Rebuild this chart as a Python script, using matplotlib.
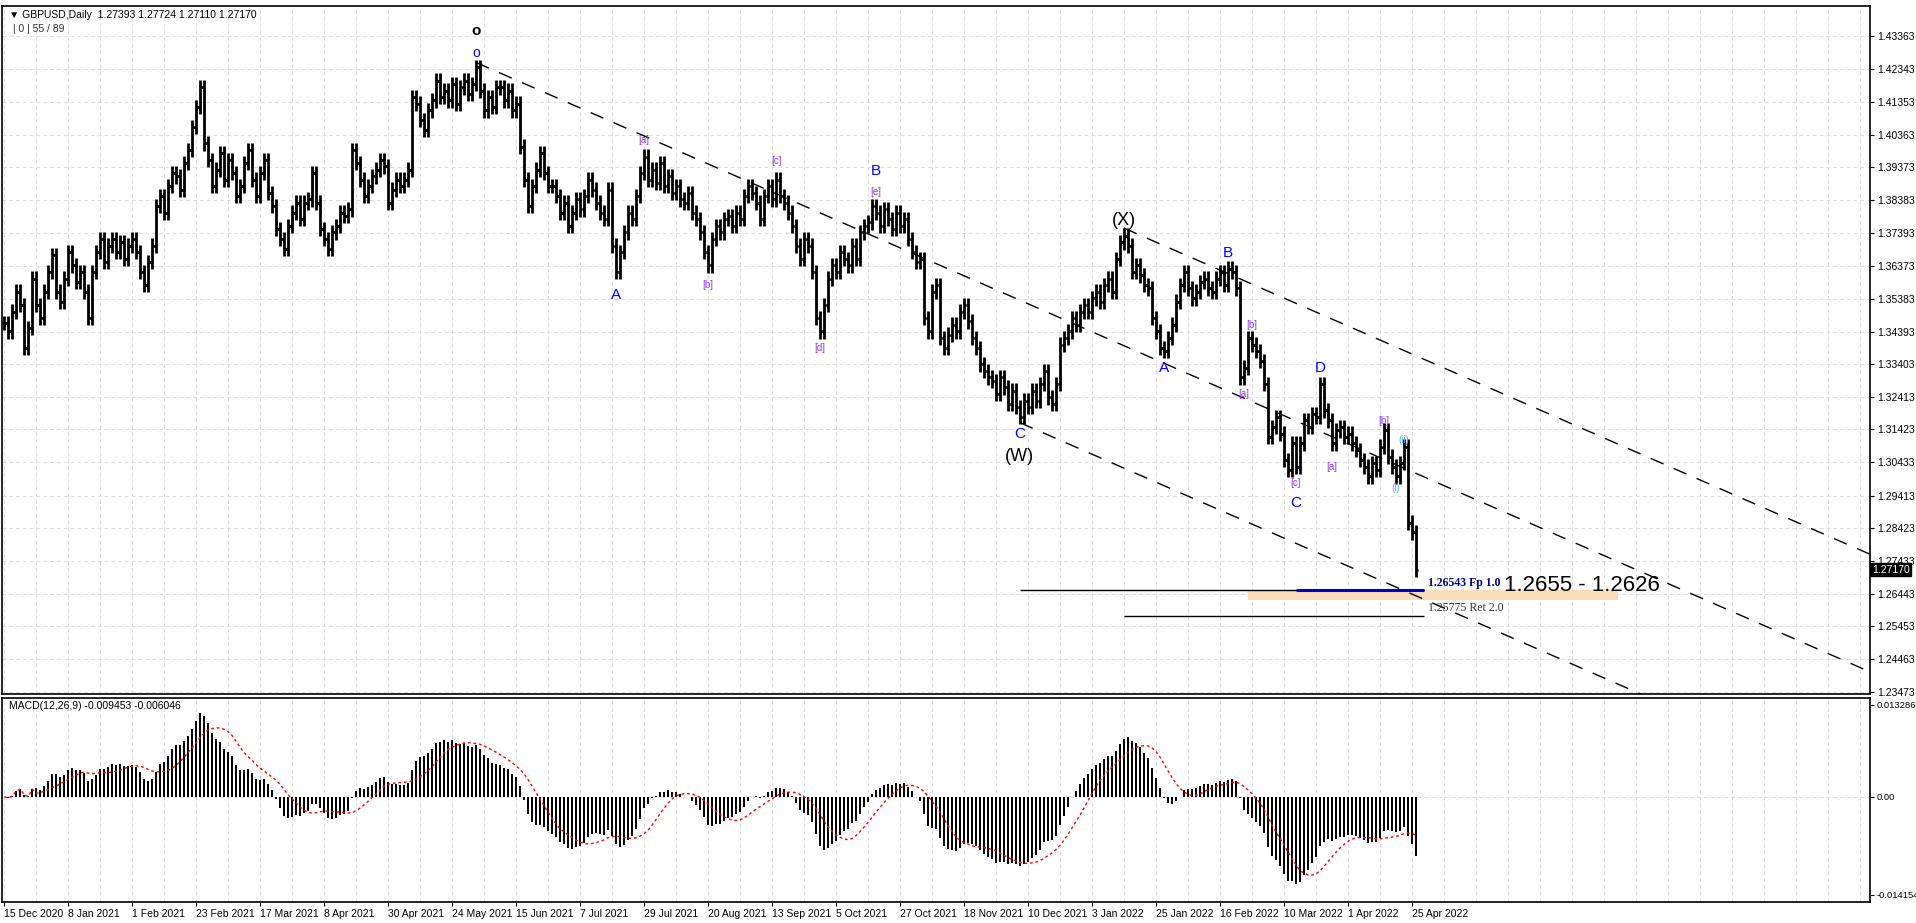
import numpy as np
import matplotlib
matplotlib.use("Agg")
import matplotlib.pyplot as plt
from matplotlib.patches import Rectangle

plt.rcParams['font.family'] = ['Liberation Sans', 'DejaVu Sans']

closes = [
1.3465,1.3440,1.3500,1.3560,1.3520,1.3390,1.3450,1.3600,1.3520,1.3480,
1.3560,1.3620,1.3670,1.3560,1.3530,1.3600,1.3680,1.3640,1.3590,1.3620,
1.3560,1.3480,1.3620,1.3680,1.3720,1.3650,1.3700,1.3720,1.3680,1.3710,
1.3660,1.3700,1.3720,1.3680,1.3620,1.3580,1.3650,1.3700,1.3820,1.3850,
1.3800,1.3880,1.3920,1.3910,1.3870,1.3950,1.3990,1.4060,1.4120,1.4180,
1.4010,1.3960,1.3880,1.3930,1.3980,1.3900,1.3960,1.3920,1.3850,1.3880,
1.3950,1.3990,1.3900,1.3850,1.3920,1.3960,1.3860,1.3820,1.3750,1.3720,
1.3690,1.3760,1.3800,1.3830,1.3780,1.3830,1.3840,1.3920,1.3830,1.3750,
1.3720,1.3690,1.3740,1.3760,1.3800,1.3790,1.3810,1.3990,1.3950,1.3900,
1.3850,1.3880,1.3910,1.3930,1.3960,1.3940,1.3830,1.3870,1.3900,1.3880,
1.3900,1.3930,1.4150,1.4130,1.4080,1.4050,1.4110,1.4140,1.4200,1.4150,
1.4170,1.4140,1.4190,1.4130,1.4180,1.4200,1.4160,1.4190,1.4240,1.4170,
1.4110,1.4150,1.4120,1.4180,1.4180,1.4140,1.4170,1.4110,1.4130,1.4000,
1.3900,1.3820,1.3880,1.3930,1.3980,1.3920,1.3880,1.3880,1.3850,1.3800,
1.3830,1.3760,1.3800,1.3840,1.3810,1.3850,1.3900,1.3870,1.3830,1.3800,
1.3780,1.3870,1.3700,1.3620,1.3680,1.3740,1.3800,1.3780,1.3850,1.3920,
1.3970,1.3900,1.3930,1.3890,1.3950,1.3880,1.3910,1.3860,1.3880,1.3840,
1.3830,1.3860,1.3800,1.3780,1.3740,1.3680,1.3640,1.3720,1.3760,1.3740,
1.3780,1.3790,1.3760,1.3800,1.3780,1.3850,1.3880,1.3860,1.3830,1.3780,
1.3850,1.3880,1.3840,1.3900,1.3850,1.3830,1.3800,1.3760,1.3700,1.3660,
1.3720,1.3700,1.3620,1.3480,1.3440,1.3520,1.3600,1.3640,1.3620,1.3680,
1.3660,1.3640,1.3700,1.3660,1.3740,1.3760,1.3770,1.3820,1.3800,1.3760,
1.3810,1.3780,1.3750,1.3800,1.3760,1.3780,1.3720,1.3680,1.3650,1.3660,
1.3480,1.3440,1.3560,1.3580,1.3420,1.3390,1.3430,1.3460,1.3440,1.3500,
1.3520,1.3470,1.3420,1.3390,1.3340,1.3320,1.3300,1.3290,1.3250,1.3300,
1.3270,1.3220,1.3260,1.3210,1.3180,1.3230,1.3210,1.3260,1.3230,1.3280,
1.3320,1.3240,1.3220,1.3280,1.3400,1.3420,1.3440,1.3480,1.3460,1.3500,
1.3520,1.3500,1.3540,1.3560,1.3530,1.3580,1.3600,1.3560,1.3660,1.3710,
1.3730,1.3700,1.3620,1.3640,1.3610,1.3580,1.3570,1.3480,1.3440,1.3390,
1.3380,1.3420,1.3460,1.3530,1.3580,1.3620,1.3570,1.3540,1.3560,1.3590,
1.3600,1.3570,1.3560,1.3600,1.3620,1.3580,1.3630,1.3620,1.3570,1.3300,
1.3330,1.3420,1.3400,1.3380,1.3350,1.3280,1.3120,1.3150,1.3180,1.3130,
1.3050,1.3020,1.3100,1.3030,1.3100,1.3170,1.3150,1.3190,1.3180,1.3280,
1.3200,1.3170,1.3100,1.3140,1.3150,1.3120,1.3130,1.3100,1.3080,1.3050,
1.3030,1.3000,1.3040,1.3020,1.3090,1.3140,1.3060,1.3030,1.3000,1.3040,
1.3090,1.2860,1.2830,1.2717]

date_labels = ["15 Dec 2020","8 Jan 2021","1 Feb 2021","23 Feb 2021","17 Mar 2021","8 Apr 2021",
               "30 Apr 2021","24 May 2021","15 Jun 2021","7 Jul 2021","29 Jul 2021","20 Aug 2021",
               "13 Sep 2021","5 Oct 2021","27 Oct 2021","18 Nov 2021","10 Dec 2021","3 Jan 2022",
               "25 Jan 2022","16 Feb 2022","10 Mar 2022","1 Apr 2022","25 Apr 2022"]
price_ticks = [1.43363,1.42343,1.41353,1.40363,1.39373,1.38383,1.37393,1.36373,1.35383,1.34393,
               1.33403,1.32413,1.31423,1.30433,1.29413,1.28423,1.27433,1.26443,1.25453,1.24463,1.23473]
macd_ticks = [0.013286, 0.0, -0.014154]

# wave labels: (bar index, price, text, color, size)
wave_labels = [
    (118, 1.4350, "o", "black", 11), (118, 1.4283, "o", "blue", 10),
    (153, 1.3550, "A", "blue", 11), (160, 1.4020, "[a]", "#9933ff", 7),
    (176, 1.3580, "[b]", "#9933ff", 7), (193, 1.3955, "[c]", "#9933ff", 7),
    (204, 1.3390, "[d]", "#9933ff", 7), (218, 1.3925, "B", "blue", 11),
    (218, 1.3862, "[e]", "#9933ff", 7), (254, 1.3130, "C", "blue", 11),
    (254, 1.3060, "(W)", "black", 13), (280, 1.3777, "(X)", "black", 13),
    (290, 1.3330, "A", "blue", 11), (306, 1.3677, "B", "blue", 11),
    (310, 1.3250, "[a]", "#9933ff", 7), (312, 1.3460, "[b]", "#9933ff", 7),
    (323, 1.2980, "[c]", "#9933ff", 7), (323, 1.2920, "C", "blue", 11),
    (329, 1.3330, "D", "blue", 11), (332, 1.3030, "[a]", "#9933ff", 7),
    (345, 1.3168, "[b]", "#9933ff", 7), (348, 1.2966, "(i)", "#55aaff", 7),
    (350, 1.3110, "(ii)", "#55aaff", 7),
]
# channel lines: start index, start price
channels = [(118, 1.4255), (280, 1.3753), (254, 1.3163)]
chan_slope = -0.00053
fp_level, ret_level = 1.26543, 1.25775
zone = (1.2626, 1.2655)

c = np.array(closes)
n = len(c)
x = np.arange(n)
o = np.r_[c[0], c[:-1]]
hi = np.maximum(o, c) + 0.0022
lo = np.minimum(o, c) - 0.0022

def ema(a, p):
    k = 2 / (p + 1); out = np.empty_like(a); out[0] = a[0]
    for i in range(1, len(a)):
        out[i] = a[i] * k + out[i-1] * (1 - k)
    return out
macd = ema(c, 12) - ema(c, 26)
sig = np.convolve(macd, np.ones(9) / 9, mode="full")[:n]
sig[:8] = macd[:8]

fig = plt.figure(figsize=(19.16, 9.23), dpi=100)
ax = fig.add_axes([0.001, 0.248, 0.975, 0.745])
ax2 = fig.add_axes([0.001, 0.023, 0.975, 0.221])
xl = (-0.6, 466.6)

for a in (ax, ax2):
    a.set_xlim(*xl)
    for s in a.spines.values():
        s.set_linewidth(1.2)
    a.yaxis.tick_right()
    a.tick_params(axis="y", labelsize=7.5, length=3, pad=2)
    for gx in np.arange(0, 470, 8):
        a.axvline(gx, color="#dddddd", lw=0.7, ls=(0, (4, 3)), zorder=0)
ax2.tick_params(axis="y", labelsize=6.8, pad=1.5)

ax.set_ylim(1.2340, 1.4425)
ax.set_yticks(price_ticks)
ax.set_yticklabels([f"{t:.5f}" for t in price_ticks])
for t in price_ticks:
    ax.axhline(t, color="#dddddd", lw=0.7, ls=(0, (4, 3)), zorder=0)
ax.set_xticks([])

ax.vlines(x, lo, hi, color="black", lw=2.0, zorder=3)
ax.hlines(o, x - 0.6, x, color="black", lw=2, zorder=3)
ax.hlines(c, x, x + 0.6, color="black", lw=2, zorder=3)

for (i0, p0) in channels:
    xs = np.array([i0, 470])
    ax.plot(xs, p0 + chan_slope * (xs - i0), color="black", lw=1, ls=(0, (10, 8)), zorder=2)

ax.add_patch(Rectangle((311, zone[0]), 403.6 - 311, zone[1] - zone[0], color="#fbdcb8", zorder=1, lw=0))
ax.hlines(fp_level, 254, 355, color="black", lw=1, zorder=2)
ax.hlines(fp_level, 323, 355, color="#0000cc", lw=2.2, zorder=2)
ax.hlines(ret_level, 280, 355, color="black", lw=1, zorder=2)
ax.text(356, 1.2676, "1.26543 Fp 1.0", family="Liberation Serif", fontsize=8.5, weight="bold", color="#000080", va="center")
ax.text(356, 1.2600, "1.25775 Ret 2.0", family="Liberation Serif", fontsize=8.5, color="#333333", va="center")
ax.text(375, 1.2670, "1.2655 - 1.2626", fontsize=16, color="black", va="center")

for (i, p, t, col, sz) in wave_labels:
    w = "bold" if t == "o" and col == "black" else "normal"
    ax.text(i, p, t, color=col, fontsize=sz, ha="center", va="center", weight=w, zorder=5)

ax.text(0.004, 0.995, "\u25BC GBPUSD,Daily  1.27393 1.27724 1.27110 1.27170", transform=ax.transAxes,
        fontsize=7.5, va="top", family=["Liberation Sans", "DejaVu Sans"])
ax.text(0.006, 0.975, "| 0 | 55 / 89", transform=ax.transAxes, fontsize=7.5, va="top", color="#333333")
ax.text(1.001, 1.2717, "1.27170", transform=ax.get_yaxis_transform(), fontsize=7.5, color="white",
        va="center", ha="left", bbox=dict(boxstyle="square,pad=0.15", fc="black", ec="black"))

ax2.bar(x, macd, width=0.55, color="black", zorder=3)
ax2.plot(x, sig, color="red", lw=1, ls=(0, (2, 2)), zorder=4)
ax2.set_ylim(-0.01516, 0.0143)
ax2.set_yticks(macd_ticks)
ax2.set_yticklabels(["0.013286", "0.00", "-0.014154"])
ax2.axhline(0, color="#dddddd", lw=0.7, ls=(0, (4, 3)), zorder=0)
ax2.set_xticks(np.arange(len(date_labels)) * 16)
ax2.set_xticklabels(date_labels, ha="left", fontsize=7.5)
ax2.tick_params(axis="x", length=3, pad=2)
ax2.text(0.004, 0.985, "MACD(12,26,9) -0.009453 -0.006046", transform=ax2.transAxes, fontsize=7.5, va="top")

fig.savefig("out.png", dpi=100)
